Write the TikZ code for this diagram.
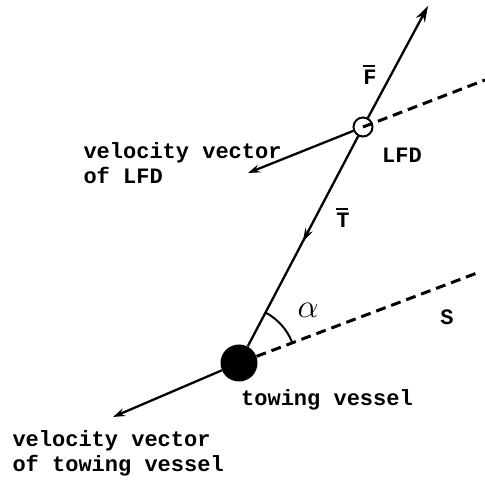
\documentclass[tikz,border=0pt]{standalone}
\usepackage{fontspec}
\usepackage{graphicx}
\setmonofont{Liberation Mono}
\usetikzlibrary{arrows.meta, positioning, calc, decorations.markings}
\newcommand{\barlet}[1]{\makebox[0pt][l]{\raisebox{18pt}{\rule{12pt}{1.6pt}}}#1}

\begin{document}
\begin{tikzpicture}[
    x=1pt, y=1pt,
    every node/.style={font=\ttfamily\bfseries\fontsize{22}{25}\selectfont},
    vessel/.style={circle, fill=black, inner sep=0pt, minimum size=37pt},
    buoy/.style={circle, draw, line width=2pt, inner sep=0pt, minimum size=19pt},
    lbl/.style={align=left, anchor=west},
    arr/.style={-{Stealth[length=12pt, width=8pt]}, line width=2.3pt},
    guide/.style={dashed, dash pattern=on 10pt off 6pt, line width=3pt},
    midarr/.style={line width=2.3pt, decoration={markings,
        mark=at position 0.5 with {\arrow{Stealth[length=13pt, width=8pt]}}},
        postaction={decorate}}
]
    \useasboundingbox (0,0) rectangle (485,482);
    % the two bodies
    \node[vessel] (tow) at (239,119) {};
    \node[buoy] (lfd) at (363,355) {};
    % free ends of the lines
    \coordinate (ftip) at (428,476);
    \coordinate (lfdend) at (485,402);
    \coordinate (send) at (477,209);
    \coordinate (vlfd) at (248,309);
    \coordinate (vtow) at (113,65);

    % towline and forces
    \draw[midarr] (lfd) -- (tow);
    \draw[arr, -{Stealth[length=16pt, width=10pt]}] (lfd) -- (ftip);
    % course lines
    \draw[guide] (lfd.center) -- (lfdend);
    \draw[guide] (tow) -- (send);
    % velocity vectors
    \draw[arr] (lfd) -- (vlfd);
    \draw[arr] (tow) -- (vtow);
    % angle alpha
    \draw[line width=2pt] ($(tow.center)+(62:57)$) arc[start angle=62, end angle=21, radius=57];

    % labels
    \node (flbl) at (370,407) {\barlet{F}};
    \node (tlbl) at (343,264) {\barlet{T}};
    \node (lfdlbl) at (402,327) {LFD};
    \node (albl) at (308,172) {\scalebox{1.6}{$\alpha$}};
    \node (slbl) at (447,165) {S};
    \node (towlbl) at (327,82) {towing vessel};
    \node[lbl] (vlfdlbl) at (80,319) {velocity vector\\of LFD};
    \node[lbl] (vtowlbl) at (9,29) {velocity vector\\of towing vessel};
\end{tikzpicture}
\end{document}
